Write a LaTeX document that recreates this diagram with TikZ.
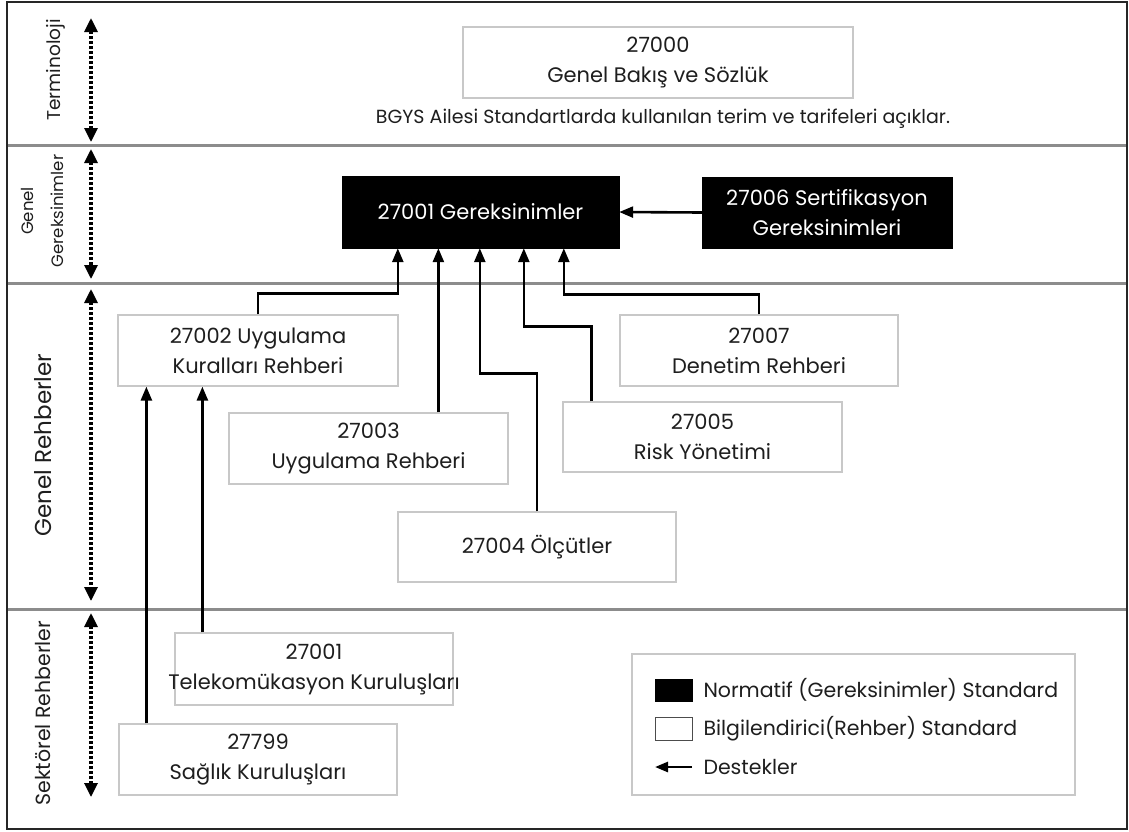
\documentclass[tikz,border=0pt]{standalone}
\usepackage{fontspec}
\setmainfont{Poppins}
\usetikzlibrary{arrows.meta,calc}
\definecolor{boxgray}{RGB}{200,200,200}
\definecolor{lanegray}{RGB}{140,140,140}
\definecolor{txt}{RGB}{30,30,30}
\newcommand{\bxf}{\fontsize{21}{30}\selectfont}
\newcommand{\cpf}{\fontsize{19}{24}\selectfont}
\newcommand{\lgf}{\fontsize{20.5}{24}\selectfont}
\begin{document}
\begin{tikzpicture}[x=1pt,y=-1pt,
  wbox/.style={draw=boxgray, line width=1.2pt, fill=white, inner sep=0pt, align=center, font=\bxf, text=txt},
  bbox/.style={fill=black, draw=black, inner sep=0pt, align=center, font=\bxf, text=white},
  sup/.style={line width=2.6pt, -{Triangle[length=14pt,width=11pt]}},
  lane/.style={line width=3pt, draw=lanegray},
  spanarr/.style={line width=3.2pt, dash pattern=on 3pt off 2pt, {Triangle[length=14pt,width=13pt]}-{Triangle[length=14pt,width=13pt]}},
  lbl/.style={text=txt, rotate=90, align=center},
  plain/.style={font=\cpf, text=txt}
]
\useasboundingbox (0,0) rectangle (1129,831);
\fill[white] (0,0) rectangle (1129,831);
% lanes
\draw[lane] (7,145) -- (1127,145);
\draw[lane] (7,283) -- (1127,283);
\draw[lane] (7,609) -- (1127,609);
\draw[line width=2pt, draw=black!85] (7,2) rectangle (1127,829);
% lane labels
\node[lbl, font=\fontsize{18.5}{24}\selectfont] (lt) at (56,70) {Terminoloji};
\node[lbl, font=\fontsize{16.5}{30}\selectfont] (lg) at (42,211) {Genel\\Gereksinimler};
\node[lbl, font=\fontsize{23}{24}\selectfont] (lr) at (43,445) {Genel Rehberler};
\node[lbl, font=\fontsize{20.5}{24}\selectfont] (ls) at (43,713) {Sektörel Rehberler};
\draw[spanarr] (91,18) -- (91,142);
\draw[spanarr] (91,149) -- (91,279);
\draw[spanarr] (91,289) -- (91,601);
\draw[spanarr] (91,613) -- (91,797);
% boxes
\node[wbox, minimum width=390pt, minimum height=71pt] (t27000) at (658,62.5) {27000\\Genel Bakış ve Sözlük};
\node[plain] (cap) at (663,119) {BGYS Ailesi Standartlarda kullanılan terim ve tarifeleri açıklar.};
\node[bbox, minimum width=277pt, minimum height=72pt] (r27001) at (480.5,212) {27001 Gereksinimler};
\node[bbox, minimum width=250pt, minimum height=71pt] (r27006) at (827,212.5) {27006 Sertifikasyon\\Gereksinimleri};
\node[wbox, minimum width=280pt, minimum height=71pt] (g27002) at (258,350.5) {27002 Uygulama\\Kuralları Rehberi};
\node[wbox, minimum width=278pt, minimum height=71pt] (g27007) at (759,350.5) {27007\\Denetim Rehberi};
\node[wbox, minimum width=279pt, minimum height=71pt] (g27003) at (368.5,448.5) {27003\\Uygulama Rehberi};
\node[wbox, minimum width=279pt, minimum height=70pt] (g27005) at (702.5,437) {27005\\Risk Yönetimi};
\node[wbox, minimum width=278pt, minimum height=70pt] (g27004) at (537,547) {27004 Ölçütler};
\node[wbox, minimum width=278pt, minimum height=72pt] (s27001) at (314,669) {27001\\\makebox[260pt][c]{Telekomükasyon Kuruluşları}};
\node[wbox, minimum width=278pt, minimum height=71pt] (s27799) at (258,759.5) {27799\\Sağlık Kuruluşları};
% connectors
\draw[sup] (g27002.north) -- ++(0,-21) -| ([xshift=56pt]r27001.south west);
\coordinate (c3) at ([xshift=210pt]g27003.north west);
\draw[sup] (c3) -- (c3 |- r27001.south);
\draw[sup] (g27004.north) -- ++(0,-138) -| ([xshift=138pt]r27001.south west);
\coordinate (c5) at ([xshift=29pt]g27005.north west);
\draw[sup] (c5) -- ++(0,-75) -| ([xshift=182pt]r27001.south west);
\draw[sup] (g27007.north) -- ++(0,-20) -| ([xshift=222pt]r27001.south west);
\draw[sup] (r27006.west) -- (r27001.east);
\coordinate (c7) at ([xshift=28pt]s27799.north west);
\draw[sup] (c7) -- (c7 |- g27002.south);
\coordinate (c8) at ([xshift=28pt]s27001.north west);
\draw[sup] (c8) -- (c8 |- g27002.south);
% legend
\node[draw=boxgray, line width=1.2pt, fill=white, minimum width=443pt, minimum height=141pt, inner sep=0pt] (leg) at (853.5,724.5) {};
\node[fill=black, draw=black, minimum width=37pt, minimum height=22pt, inner sep=0pt] (lgb) at (673.5,690) {};
\node[draw=black!70, line width=1pt, fill=white, minimum width=37pt, minimum height=23pt, inner sep=0pt] (lgw) at (673.5,728.5) {};
\coordinate (la1) at (692,767);
\coordinate (la2) at (655,767);
\draw[line width=2.6pt, -{Triangle[length=13pt,width=10pt]}] (la1) -- (la2);
\node[font=\lgf, text=txt, anchor=west] (lt1) at (700,690) {Normatif (Gereksinimler) Standard};
\node[font=\lgf, text=txt, anchor=west] (lt2) at (700,728.5) {Bilgilendirici(Rehber) Standard};
\node[font=\lgf, text=txt, anchor=west] (lt3) at (700,767) {Destekler};
\end{tikzpicture}
\end{document}
